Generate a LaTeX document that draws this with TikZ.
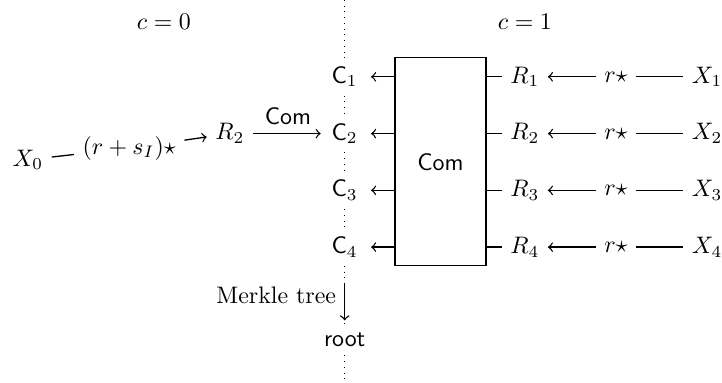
\documentclass[tikz,border=0pt]{standalone}
\usepackage{amsmath,amsfonts,amssymb}
\usepackage{tikz}

\begin{document}
\begin{tikzpicture}[node distance=0.835cm, auto, >=to, line width=0.55pt,
	combox/.style={draw, minimum width=1.34cm, minimum height=3.06cm}]
	\useasboundingbox (0,0) rectangle (10.62,-5.63);
	% both sides
	\node (c0) at (2.41,-0.32) {$c=0$};
	\node (c1) at (7.72,-0.32) {$c=1$};
	\coordinate (top) at (5.07,0);
	\coordinate (bot) at (5.07,-5.59);
	% commitments
	\node (C1) at (5.07,-1.13) {$\mathsf{C}_1$};
	\node (C2) [below of=C1] {$\mathsf{C}_2$};
	\node (C3) [below of=C2] {$\mathsf{C}_3$};
	\node (C4) [below of=C3] {$\mathsf{C}_4$};
	\node (root) at (5.07,-5.0) {$\mathsf{root}$};
	\node (box) [combox] at (6.48,-2.38) {$\mathsf{Com}$};
	\draw[dotted, line width=0.4pt] (top) -- (C1) -- (C2) -- (C3) -- (C4) -- (root) -- (bot);
	% right side
	\node (R1) [node distance=2.65cm, right of=C1] {$R_1$};
	\node (R2) [node distance=2.65cm, right of=C2] {$R_2$};
	\node (R3) [node distance=2.65cm, right of=C3] {$R_3$};
	\node (R4) [node distance=2.65cm, right of=C4] {$R_4$};
	\node (rs1) [node distance=1.34cm, right of=R1] {$r\star$};
	\node (rs2) [node distance=1.34cm, right of=R2] {$r\star$};
	\node (rs3) [node distance=1.34cm, right of=R3] {$r\star$};
	\node (rs4) [node distance=1.34cm, right of=R4] {$r\star$};
	\node (X1) [node distance=1.34cm, right of=rs1] {$X_1$};
	\node (X2) [node distance=1.34cm, right of=rs2] {$X_2$};
	\node (X3) [node distance=1.34cm, right of=rs3] {$X_3$};
	\node (X4) [node distance=1.34cm, right of=rs4] {$X_4$};
	% left side
	\node (R0) [node distance=1.69cm, left of=C2] {$R_2$};
	\node (X0) at (0.41,-2.35) {$X_0$};
	\node (rs0) at (1.90,-2.18) {$(r+s_I)\star$};
	% edges
	\draw (X0) to (rs0);
	\draw[->] (rs0) to (R0);
	\draw[->, shorten >=1pt] (R0) to node {$\mathsf{Com}$} (C2);
	\draw[->, shorten >=2pt] (box.west |- C1) to (C1);
	\draw[->, shorten >=2pt] (box.west |- C2) to (C2);
	\draw[->, shorten >=2pt] (box.west |- C3) to (C3);
	\draw[->, shorten >=2pt] (box.west |- C4) to (C4);
	\draw (box.east |- R1) to (R1);
	\draw (box.east |- R2) to (R2);
	\draw (box.east |- R3) to (R3);
	\draw (box.east |- R4) to (R4);
	\draw[->] (rs1) to (R1);
	\draw[->] (rs2) to (R2);
	\draw[->] (rs3) to (R3);
	\draw[->] (rs4) to (R4);
	\draw (X1) to (rs1);
	\draw (X2) to (rs2);
	\draw (X3) to (rs3);
	\draw (X4) to (rs4);
	\draw[->, shorten <=0.27cm, shorten >=0.06cm] (C4) to node [swap] {Merkle tree} (root);
\end{tikzpicture}
\end{document}
